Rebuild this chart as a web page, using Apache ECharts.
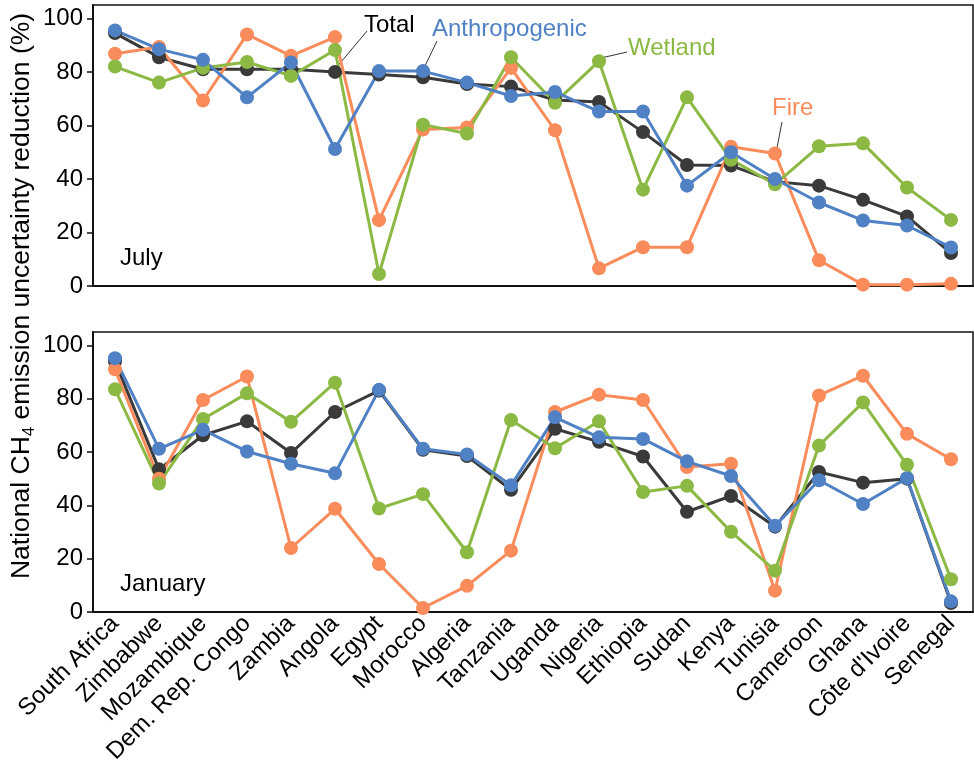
<!DOCTYPE html>
<html>
<head>
<meta charset="utf-8">
<script src="https://cdn.jsdelivr.net/npm/echarts@6/dist/echarts.min.js"></script>
<style>
  html, body { margin: 0; padding: 0; background: #ffffff; }
  #chart { width: 974px; height: 773px; }
</style>
</head>
<body>
<div id="chart"></div>
<script>
// countries along the x axis
const countries = ["South Africa", "Zimbabwe", "Mozambique", "Dem. Rep. Congo", "Zambia", "Angola",
  "Egypt", "Morocco", "Algeria", "Tanzania", "Uganda", "Nigeria", "Ethiopia", "Sudan", "Kenya",
  "Tunisia", "Cameroon", "Ghana", "Côte d'Ivoire", "Senegal"];

const yTicks = [0, 20, 40, 60, 80, 100];

// July (top panel)
const julyTotal = [94.5, 85.5, 81, 81, 81, 80, 79, 78, 75.5, 74.5, 69.5, 68.8, 57.5, 45.2, 45, 39, 37.5, 32.2, 26, 12.3];
const julyAnthro = [95.5, 88.5, 84.5, 70.5, 83.5, 51.2, 80.3, 80.3, 76, 71, 72.5, 65.2, 65.2, 37.5, 50, 40, 31.2, 24.5, 22.6, 14.4];
const julyWetland = [82, 76, 81.5, 83.7, 78.5, 88.2, 4.5, 60.3, 57, 85.5, 68.5, 84, 36, 70.5, 47.2, 38, 52.2, 53.3, 36.8, 24.7];
const julyFire = [86.8, 89.3, 69.3, 94, 86, 93, 24.6, 58.5, 59.2, 81.5, 58.2, 6.6, 14.5, 14.5, 52, 49.5, 9.6, 0.5, 0.5, 0.8];

// January (bottom panel)
const janTotal = [94, 53.5, 66.3, 71.5, 59.6, 75, 83, 60.8, 58.5, 45.8, 68.7, 63.8, 58.3, 37.6, 43.5, 32, 52.5, 48.5, 50, 3.4];
const janAnthro = [95.2, 61.2, 68.3, 60.2, 55.6, 52, 83.3, 61.2, 59.1, 47.5, 73, 65.5, 64.9, 56.5, 51, 32.3, 49.4, 40.5, 50.2, 4];
const janWetland = [83.5, 48.2, 72.4, 82, 71.3, 86, 38.8, 44.2, 22.4, 72, 61.4, 71.5, 45, 47.3, 30.1, 15.5, 62.4, 78.6, 55.2, 12.3];
const janFire = [91, 50, 79.5, 88.3, 24, 38.7, 18, 1.5, 9.8, 23, 75, 81.5, 79.5, 54.4, 55.6, 8, 81.2, 88.6, 66.8, 57.3];

const colors = { total: "#3a3a3a", anthro: "#4f81c4", wetland: "#8bb944", fire: "#f98c5a" };
const font = "Liberation Sans, Arial, sans-serif";

function line(name, data, color, idx) {
  return {
    name: name,
    type: "line",
    xAxisIndex: idx,
    yAxisIndex: idx,
    data: data,
    symbol: "circle",
    symbolSize: 14,
    lineStyle: { color: color, width: 3 },
    itemStyle: { color: color },
    animation: false
  };
}

function xAxis(idx, showLabels) {
  return {
    type: "category",
    gridIndex: idx,
    data: countries,
    boundaryGap: true,
    axisLine: { lineStyle: { color: "#111", width: 2 } },
    axisTick: { alignWithLabel: true, length: 7, lineStyle: { color: "#111", width: 1.5 } },
    axisLabel: {
      show: showLabels,
      interval: 0,
      rotate: 45,
      margin: 8,
      fontSize: 24,
      fontFamily: font,
      color: "#000"
    }
  };
}

function yAxis(idx) {
  return {
    type: "value",
    gridIndex: idx,
    min: 0,
    max: 105,
    interval: 20,
    splitLine: { show: false },
    axisLine: { show: true, lineStyle: { color: "#111", width: 2 } },
    axisTick: { show: true, length: 6, customValues: yTicks, lineStyle: { color: "#111", width: 1.5 } },
    axisLabel: { customValues: yTicks, fontSize: 24, fontFamily: font, color: "#000", margin: 10 }
  };
}

const chart = echarts.init(document.getElementById("chart"));

const option = {
  backgroundColor: "#ffffff",
  animation: false,
  grid: [
    { left: 93, right: 1, top: 5, height: 281, show: true, borderColor: "#111", borderWidth: 1.5, backgroundColor: "transparent" },
    { left: 93, right: 1, top: 332, height: 280, show: true, borderColor: "#111", borderWidth: 1.5, backgroundColor: "transparent" }
  ],
  xAxis: [xAxis(0, false), xAxis(1, true)],
  yAxis: [yAxis(0), yAxis(1)],
  series: [
    line("Total", julyTotal, colors.total, 0),
    line("Fire", julyFire, colors.fire, 0),
    line("Wetland", julyWetland, colors.wetland, 0),
    line("Anthropogenic", julyAnthro, colors.anthro, 0),
    line("Total", janTotal, colors.total, 1),
    line("Fire", janFire, colors.fire, 1),
    line("Wetland", janWetland, colors.wetland, 1),
    line("Anthropogenic", janAnthro, colors.anthro, 1)
  ],
  graphic: [
    {
      type: "text", x: 23, y: 296, rotation: Math.PI / 2,
      style: {
        text: "{a|National CH}{s|4}{a| emission uncertainty reduction (%)}",
        align: "center", verticalAlign: "middle",
        rich: {
          a: { fontSize: 26.5, fontFamily: font, fill: "#000", lineHeight: 30, verticalAlign: "top" },
          s: { fontSize: 17, fontFamily: font, fill: "#000", lineHeight: 19, verticalAlign: "bottom" }
        }
      }
    },
    { type: "text", x: 120, y: 258, style: { text: "July", fontSize: 24, fontFamily: font, fill: "#000", verticalAlign: "middle" } },
    { type: "text", x: 120, y: 584, style: { text: "January", fontSize: 24, fontFamily: font, fill: "#000", verticalAlign: "middle" } },
    // series call-outs in the July panel
    { type: "text", x: 364, y: 25, style: { text: "Total", fontSize: 24, fontFamily: font, fill: "#000", verticalAlign: "middle" } },
    { type: "line", shape: { x1: 367, y1: 31, x2: 336, y2: 68 }, style: { stroke: "#000", lineWidth: 0.8 } },
    { type: "text", x: 432, y: 29, style: { text: "Anthropogenic", fontSize: 24, fontFamily: font, fill: colors.anthro, verticalAlign: "middle" } },
    { type: "line", shape: { x1: 437, y1: 41, x2: 424, y2: 68 }, style: { stroke: "#000", lineWidth: 0.8 } },
    { type: "text", x: 628, y: 48, style: { text: "Wetland", fontSize: 24, fontFamily: font, fill: colors.wetland, verticalAlign: "middle" } },
    { type: "line", shape: { x1: 627, y1: 52, x2: 601, y2: 58 }, style: { stroke: "#000", lineWidth: 0.8 } },
    { type: "text", x: 772, y: 108, style: { text: "Fire", fontSize: 24, fontFamily: font, fill: colors.fire, verticalAlign: "middle" } },
    { type: "line", shape: { x1: 782, y1: 122, x2: 776, y2: 153 }, style: { stroke: "#000", lineWidth: 0.8 } }
  ]
};

chart.setOption(option);
</script>
</body>
</html>
